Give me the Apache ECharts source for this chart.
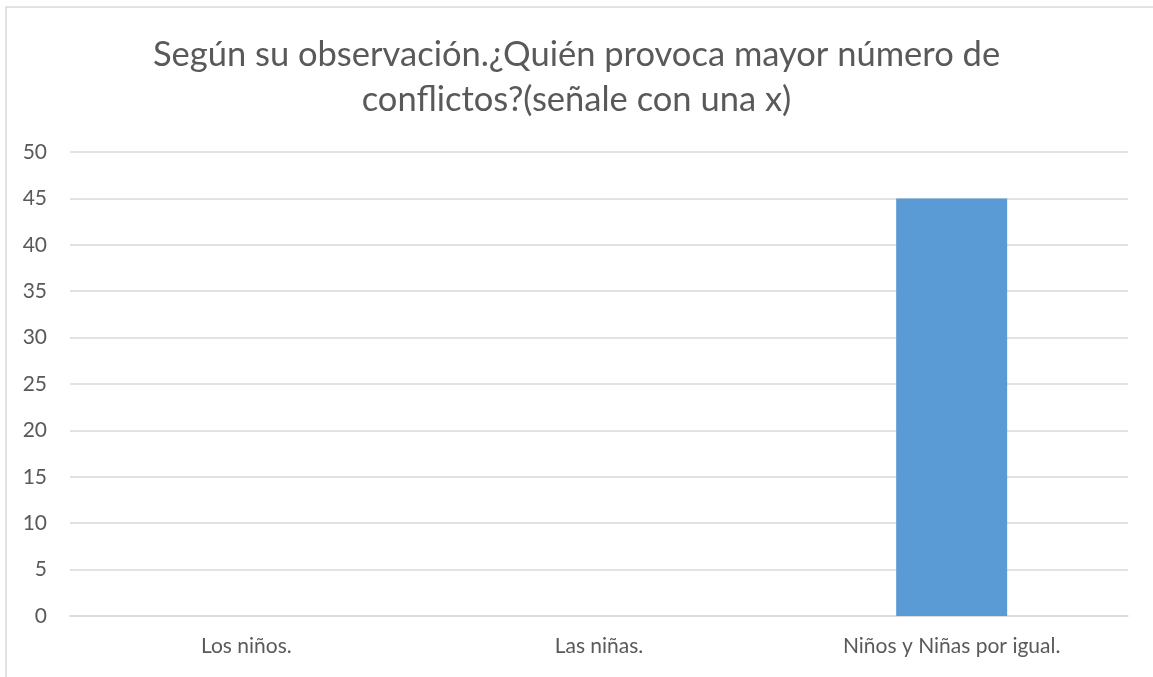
<!DOCTYPE html>
<html>
<head>
<meta charset="utf-8">
<title>conflictos</title>
<script src="https://cdn.jsdelivr.net/npm/echarts@6/dist/echarts.min.js"></script>
<style>
    html,body{margin:0;padding:0;background:#fff;}
    #main{width:1153px;height:677px;}
</style>
</head>
<body>
<div id="main"></div>
<script>
// datos del grafico
var categorias = ['Los niños.', 'Las niñas.', 'Niños y Niñas por igual.'];
var valores = [0, 0, 45];
var ticksY = [0, 50, 5]; // min, max, intervalo

var tituloTexto = 'Según su observación.¿Quién provoca mayor número de\nconflictos?(señale con una x)';

var chart = echarts.init(document.getElementById('main'));

var option = {
    backgroundColor: '#fff',
    animation: false,
    textStyle: {fontFamily: 'Lato'},
    title: {
        text: tituloTexto,
        left: 'center',
        top: 27,
        textStyle: {
            fontFamily: 'Lato',
            fontSize: 34.5,
            fontWeight: 'normal',
            color: '#595959',
            lineHeight: 45
        }
    },
    // marco del grafico
    graphic: [
        {
            type: 'rect',
            shape: {x: 6, y: 7, width: 1200, height: 720},
            style: {fill: 'none', stroke: '#d9d9d9', lineWidth: 1.5},
            silent: true
        }
    ],
    grid: {left: 70, right: 25, top: 152, bottom: 61},
    xAxis: {
        type: 'category',
        data: categorias,
        axisLine: {show: true, lineStyle: {color: '#d9d9d9', width: 1.5}},
        axisTick: {show: false},
        axisLabel: {color: '#595959', fontSize: 21, margin: 20, fontFamily: 'Lato'}
    },
    yAxis: {
        type: 'value',
        min: ticksY[0],
        max: ticksY[1],
        interval: ticksY[2],
        axisLine: {show: false},
        axisTick: {show: false},
        splitLine: {lineStyle: {color: '#d9d9d9', width: 1.5}},
        axisLabel: {color: '#595959', fontSize: 21, margin: 23, fontFamily: 'Lato'}
    },
    series: [
        {
            type: 'bar',
            data: valores,
            barWidth: 111,
            itemStyle: {color: '#5b9bd5'}
        }
    ]
};

chart.setOption(option);
</script>
</body>
</html>
